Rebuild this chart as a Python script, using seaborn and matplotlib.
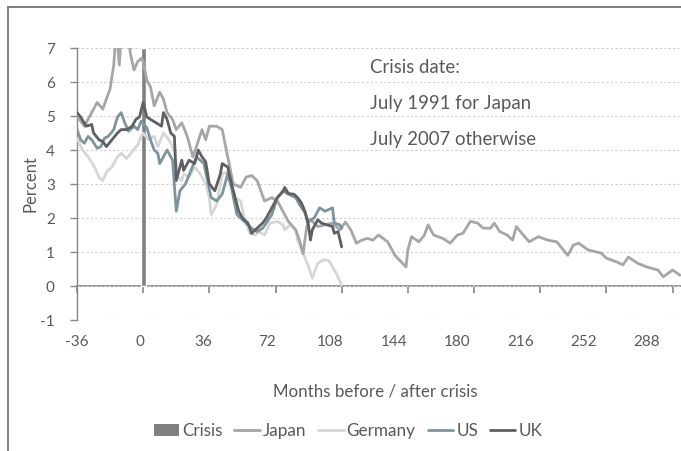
import matplotlib
matplotlib.use("Agg")
import matplotlib.pyplot as plt
from matplotlib.patches import Rectangle, Patch
from matplotlib.lines import Line2D
import seaborn as sns
import pandas as pd

# ---------------- data ----------------
japan_months = [-36, -32, -28, -25, -22, -20, -18, -16, -15, -14,
                -13, -12, -10, -8, -7, -5, -3, -1, 0, 2,
                4, 6, 9, 11, 13, 16, 18, 21, 24, 27,
                29, 32, 34, 36, 40, 43, 46, 49, 53, 56,
                59, 62, 64, 66, 70, 73, 76, 79, 83, 85,
                87, 89, 91, 95, 99, 103, 107, 110, 113, 116,
                119, 122, 125, 128, 133, 137, 143, 144, 146, 150,
                153, 155, 158, 163, 167, 171, 174, 178, 182, 185,
                189, 191, 194, 198, 201, 203, 206, 210, 215, 220,
                225, 231, 234, 237, 242, 249, 252, 258, 261, 264,
                269, 274, 280, 283, 288, 292]
japan_values = [5.0, 4.7, 5.1, 5.4, 5.2, 5.5, 5.8, 6.5, 7.3, 7.2,
                6.5, 7.3, 7.8, 7.4, 6.85, 6.35, 6.6, 6.7, 6.6, 6.05,
                5.85, 5.3, 5.7, 5.5, 5.1, 4.9, 4.6, 4.8, 4.4, 3.8,
                4.1, 4.6, 4.3, 4.7, 4.7, 4.6, 3.8, 3.0, 2.9, 3.2,
                3.25, 3.1, 2.8, 2.5, 2.6, 2.5, 2.2, 1.9, 1.65, 1.35,
                0.95, 1.75, 1.95, 1.75, 1.8, 1.85, 1.65, 1.88, 1.65, 1.26,
                1.35, 1.4, 1.35, 1.5, 1.3, 0.9, 0.56, 1.06, 1.45, 1.3,
                1.5, 1.8, 1.5, 1.4, 1.26, 1.5, 1.55, 1.9, 1.85, 1.7,
                1.7, 1.85, 1.6, 1.5, 1.35, 1.75, 1.55, 1.3, 1.45, 1.35,
                1.3, 0.9, 1.2, 1.26, 1.06, 0.97, 0.82, 0.7, 0.62, 0.85,
                0.67, 0.56, 0.47, 0.27, 0.47, 0.32]

germany_months = [-36, -33, -30, -27, -24, -22, -20, -17, -14, -12,
                  -9, -6, -3, -1, 0, 3, 6, 8, 11, 14,
                  17, 19, 21, 22, 25, 28, 31, 34, 36, 37,
                  40, 43, 45, 47, 50, 53, 55, 58, 61, 63,
                  66, 69, 73, 76, 77, 80, 83, 84, 87, 90,
                  92, 95, 98, 101, 103, 105, 106, 108]
germany_values = [4.35, 4.0, 3.8, 3.55, 3.2, 3.1, 3.35, 3.5, 3.8, 3.9,
                  3.75, 3.95, 4.15, 4.4, 4.5, 4.3, 4.4, 4.1, 4.5, 4.3,
                  4.0, 3.2, 3.1, 3.3, 3.2, 3.5, 3.3, 3.0, 2.6, 2.1,
                  2.4, 3.3, 3.35, 3.1, 2.6, 2.5, 2.0, 1.55, 1.5, 1.6,
                  1.5, 1.85, 1.9, 1.8, 1.65, 1.8, 1.65, 1.35, 0.97, 0.56,
                  0.23, 0.67, 0.77, 0.75, 0.56, 0.38, 0.25, 0.03]

us_months = [-36, -34, -32, -30, -28, -25, -23, -21, -19, -16,
             -14, -12, -10, -8, -5, -3, -1, 2, 4, 6,
             8, 9, 11, 13, 16, 18, 20, 23, 26, 29,
             31, 33, 35, 37, 40, 43, 46, 48, 51, 54,
             56, 59, 62, 65, 67, 70, 73, 76, 79, 83,
             85, 88, 90, 93, 96, 99, 103, 104, 107, 108]
us_values = [4.6, 4.3, 4.2, 4.4, 4.3, 4.05, 4.1, 4.35, 4.4, 4.6,
             4.97, 5.1, 4.8, 4.55, 4.7, 4.6, 4.85, 4.65, 4.3, 4.0,
             3.9, 3.6, 3.8, 4.0, 3.7, 2.2, 2.8, 3.0, 3.4, 3.8,
             3.7, 3.6, 3.1, 2.6, 2.5, 2.7, 3.3, 2.9, 2.1, 1.95,
             1.85, 1.7, 1.6, 1.7, 1.85, 2.1, 2.6, 2.8, 2.7, 2.6,
             2.4, 2.15, 1.9, 2.0, 2.3, 2.2, 2.3, 1.85, 1.8, 1.7]

uk_months = [-36, -34, -31, -28, -27, -24, -22, -20, -17, -14,
             -12, -9, -6, -4, -2, 0, 2, 4, 7, 10,
             11, 13, 15, 17, 18, 21, 22, 25, 28, 30,
             32, 34, 36, 39, 42, 43, 46, 47, 50, 52,
             54, 57, 59, 62, 65, 67, 70, 73, 76, 77,
             79, 82, 84, 86, 88, 90, 91, 92, 95, 97,
             100, 103, 104, 106, 108]
uk_values = [5.1, 4.97, 4.7, 4.75, 4.5, 4.3, 4.25, 4.1, 4.3, 4.5,
             4.6, 4.6, 4.7, 4.9, 4.97, 5.4, 4.97, 4.9, 4.8, 4.7,
             5.1, 4.9, 4.5, 4.4, 3.1, 3.7, 3.4, 3.7, 3.6, 4.0,
             3.8, 3.65, 3.0, 2.8, 3.3, 3.6, 3.5, 3.25, 2.6, 2.2,
             2.0, 1.85, 1.55, 1.7, 1.85, 2.0, 2.3, 2.6, 2.77, 2.9,
             2.72, 2.7, 2.6, 2.45, 2.2, 1.75, 1.35, 1.65, 1.95, 1.85,
             1.8, 1.75, 1.55, 1.6, 1.15]

crisis_month = [0]
crisis_height = [7]

x_tick_values = [-36, 0, 36, 72, 108, 144, 180, 216, 252, 288]
x_tick_labels = ["-36", "0", "36", "72", "108", "144", "180", "216", "252", "288"]
y_tick_values = [-1, 0, 1, 2, 3, 4, 5, 6, 7]

note_lines = ["Crisis date:", "July 1991 for Japan", "July 2007 otherwise"]
note_levels = [6.44, 5.38, 4.32]

# ---------------- style ----------------
sns.set_style("white")
plt.rcParams["font.family"] = ["Lato", "DejaVu Sans"]
plt.rcParams["axes.unicode_minus"] = False

TXT = "#595959"
AX = "#868686"
col = {"Japan": "#a6a6a6", "Germany": "#d6d6d6", "US": "#7f939d", "UK": "#5e5f63"}
crisis_col = "#808080"

fig = plt.figure(figsize=(6.81, 4.51), dpi=100)
ax = fig.add_axes([77 / 681, 1 - 320 / 451, 1 - 77 / 681, (320 - 48) / 451])

# outer frame of the chart area
fig.patches.append(Rectangle((8 / 681, -0.05), 1.2, (451 - 7) / 451 + 0.05,
                             transform=fig.transFigure, fill=False,
                             edgecolor="#7f7f7f", lw=1.4, zorder=0))

frames = {
    "Germany": pd.DataFrame({"month": germany_months, "value": germany_values}),
    "Japan": pd.DataFrame({"month": japan_months, "value": japan_values}),
    "US": pd.DataFrame({"month": us_months, "value": us_values}),
    "UK": pd.DataFrame({"month": uk_months, "value": uk_values}),
}

ax.bar(crisis_month, crisis_height, width=2.7, color=crisis_col, zorder=2)

for name in ["Germany", "Japan", "US", "UK"]:
    d = frames[name]
    sns.lineplot(data=d, x="month", y="value", ax=ax, color=col[name],
                 lw=2.0, zorder=3, legend=False, estimator=None, sort=False)

ax.set_xlim(-36, 292.6)
ax.set_ylim(-1, 7)

# gridlines
ax.set_yticks(y_tick_values)
ax.set_yticklabels([str(v) for v in y_tick_values])
ax.yaxis.grid(True, color="#d0d0d0", lw=0.8, ls=(0, (2, 2)))
ax.xaxis.grid(False)
ax.set_axisbelow(True)

for s in ["top", "right", "bottom"]:
    ax.spines[s].set_visible(False)
ax.spines["left"].set_color(AX)
ax.spines["left"].set_linewidth(1.0)

ax.tick_params(axis="y", direction="out", length=5, width=1, color=AX,
               labelcolor=TXT, labelsize=11, pad=11, left=True)

# category labels sit slightly closer together than the tick marks in the reference
label_step = 34.46
label_pos = [x_tick_values[0] + label_step * i for i in range(len(x_tick_labels))]
ax.set_xticks(label_pos)
ax.set_xticklabels(x_tick_labels)
ax.tick_params(axis="x", length=0, labelcolor=TXT, labelsize=11, pad=11)

# horizontal axis line at zero with tick marks
sec = ax.secondary_xaxis(1 / 8)
sec.set_xticks(x_tick_values)
sec.set_xticklabels([""] * len(x_tick_values))
sec.tick_params(axis="x", direction="out", length=5, width=1.2, color=AX)
sec.spines["bottom"].set_color(AX)
sec.spines["bottom"].set_linewidth(1.2)

ax.set_xlabel("Months before / after crisis", color=TXT, fontsize=12.2)
ax.xaxis.set_label_coords(0.4934, -0.232)
ax.set_ylabel("Percent", color=TXT, fontsize=12)
ax.yaxis.set_label_coords(-0.064, 0.5)

for line, lvl in zip(note_lines, note_levels):
    ax.text(123.4, lvl, line, color=TXT, fontsize=13.4, va="center", ha="left")

handles = [Patch(facecolor=crisis_col, edgecolor="none")] + [
    Line2D([], [], color=col[n], lw=2.0) for n in ["Japan", "Germany", "US", "UK"]]
labels = ["Crisis", "Japan", "Germany", "US", "UK"]
fig.legend(handles, labels, loc="center", bbox_to_anchor=(348 / 681, 1 - 431 / 451),
           ncol=5, frameon=False, fontsize=12.3, handlelength=1.47,
           handletextpad=0.18, columnspacing=0.72, labelcolor=TXT)

fig.savefig("out.png", dpi=100)
